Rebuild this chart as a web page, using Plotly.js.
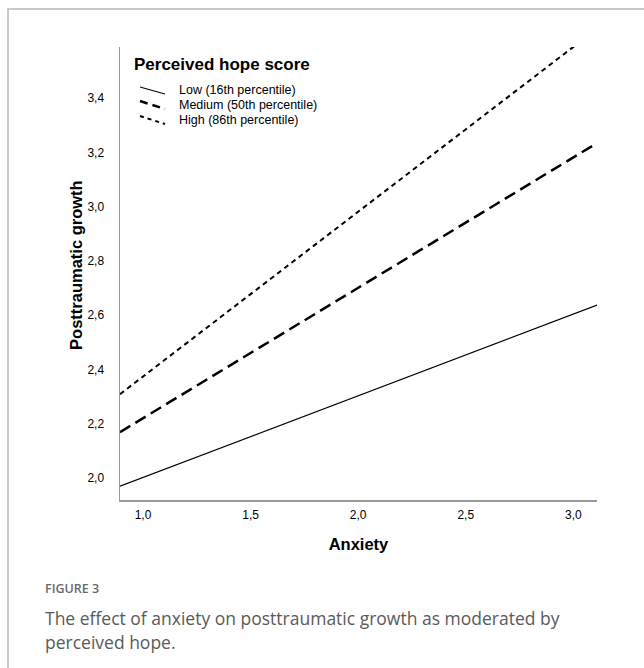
<!DOCTYPE html>
<html>
<head>
<meta charset="utf-8">
<script src="https://cdn.plot.ly/plotly-3.0.1.min.js"></script>
<style>html,body{margin:0;padding:0;background:#fff;}#chart{width:644px;height:668px;}</style>
</head>
<body>
<div id="chart"></div>
<script>
// Data (line endpoints at the edges of the x range)
const anxiety = [0.893, 3.11];
const lowHope = [1.97, 2.637];
const mediumHope = [2.169, 3.234];
const highHope = [2.309, 3.655];
const seriesNames = ["Low (16th percentile)", "Medium (50th percentile)", "High (86th percentile)"];
const legendTitle = "Perceived hope score";
const xTickVals = [1.0, 1.5, 2.0, 2.5, 3.0];
const yTickVals = [2.0, 2.2, 2.4, 2.6, 2.8, 3.0, 3.2, 3.4];

const styles = [
  {color: "#000", width: 1.1, dash: "solid"},
  {color: "#000", width: 2.5, dash: "12px,6px"},
  {color: "#000", width: 2, dash: "5px,4px"}
];
const seriesY = [lowHope, mediumHope, highHope];

const traces = seriesY.map((ys, i) => ({
  x: anxiety, y: ys, name: seriesNames[i], mode: "lines", line: styles[i], showlegend: false
}));

// Manual legend (slanted symbols as in the original)
const legX0 = 0.0419, legX1 = 0.0943, legTextX = 0.1195;
const legTextY = [0.9051, 0.8720, 0.8389];
const legSymY = [[0.9117, 0.8962], [0.8808, 0.8631], [0.8477, 0.8300]];
const legendSymStyles = [
  {color: "#000", width: 1.1, dash: "solid"},
  {color: "#000", width: 2.5, dash: "8px,5px"},
  {color: "#000", width: 2, dash: "4px,4px"}
];

const shapes = [
  {type: "rect", xref: "paper", yref: "paper", x0: -0.2348, x1: 1.12, y0: -0.40, y1: 1.0839,
   line: {color: "#b8b8b8", width: 1.5}, fillcolor: "rgba(0,0,0,0)", layer: "below"}
];
seriesNames.forEach((n, i) => {
  shapes.push({type: "line", xref: "paper", yref: "paper", x0: legX0, x1: legX1,
    y0: legSymY[i][0], y1: legSymY[i][1], line: legendSymStyles[i]});
});

const annotations = [
  {xref: "paper", yref: "paper", x: 0.0252, y: 0.9603, xanchor: "left", yanchor: "middle",
   showarrow: false, text: "<b>" + legendTitle + "</b>",
   font: {family: "Liberation Sans, Arial, sans-serif", size: 17, color: "#000"}},
  {xref: "paper", yref: "paper", x: -0.0912, y: 0.52, xanchor: "center", yanchor: "middle",
   textangle: -90, showarrow: false, text: "<b>Posttraumatic growth</b>",
   font: {family: "Liberation Sans, Arial, sans-serif", size: 16.5, color: "#000"}},
  {xref: "paper", yref: "paper", x: -0.162, y: -0.1943, xanchor: "left", yanchor: "middle",
   showarrow: false, text: "FIGURE 3",
   font: {family: "Open Sans, sans-serif", size: 12.5, color: "#6a6a6a", weight: 600}},
  {xref: "paper", yref: "paper", x: -0.162, y: -0.2605, xanchor: "left", yanchor: "middle",
   showarrow: false, text: "The effect of anxiety on posttraumatic growth as moderated by",
   font: {family: "Open Sans, sans-serif", size: 17.5, color: "#5a5a5a", weight: 400}},
  {xref: "paper", yref: "paper", x: -0.162, y: -0.3135, xanchor: "left", yanchor: "middle",
   showarrow: false, text: "perceived hope.",
   font: {family: "Open Sans, sans-serif", size: 17.5, color: "#5a5a5a", weight: 400}}
];
seriesNames.forEach((n, i) => {
  annotations.push({xref: "paper", yref: "paper", x: legTextX, y: legTextY[i],
    xanchor: "left", yanchor: "middle", showarrow: false, text: n,
    font: {family: "Liberation Sans, Arial, sans-serif", size: 12.5, color: "#000"}});
});

const layout = {
  width: 644, height: 668,
  margin: {l: 120, r: 47, t: 47, b: 168},
  paper_bgcolor: "#fff", plot_bgcolor: "#fff",
  separators: ",.",
  font: {family: "Liberation Sans, Arial, sans-serif", color: "#000", size: 12},
  showlegend: false,
  xaxis: {
    range: [0.893, 3.11], tickvals: xTickVals, tickformat: ".1f",
    showgrid: false, zeroline: false, showline: true, linecolor: "#999", linewidth: 1.5,
    ticks: "outside", ticklen: 3, tickcolor: "rgba(0,0,0,0)",
    tickfont: {size: 12},
    title: {text: "<b>Anxiety</b>", font: {size: 16.5}, standoff: 17}
  },
  yaxis: {
    range: [1.919, 3.588], tickvals: yTickVals, tickformat: ".1f",
    showgrid: false, zeroline: false, showline: true, linecolor: "#999", linewidth: 1.5,
    ticks: "outside", ticklen: 12, tickcolor: "rgba(0,0,0,0)",
    tickfont: {size: 12},
    title: {text: ""}
  },
  shapes: shapes,
  annotations: annotations
};

Plotly.newPlot("chart", traces, layout, {displayModeBar: false, staticPlot: true});
</script>
</body>
</html>
